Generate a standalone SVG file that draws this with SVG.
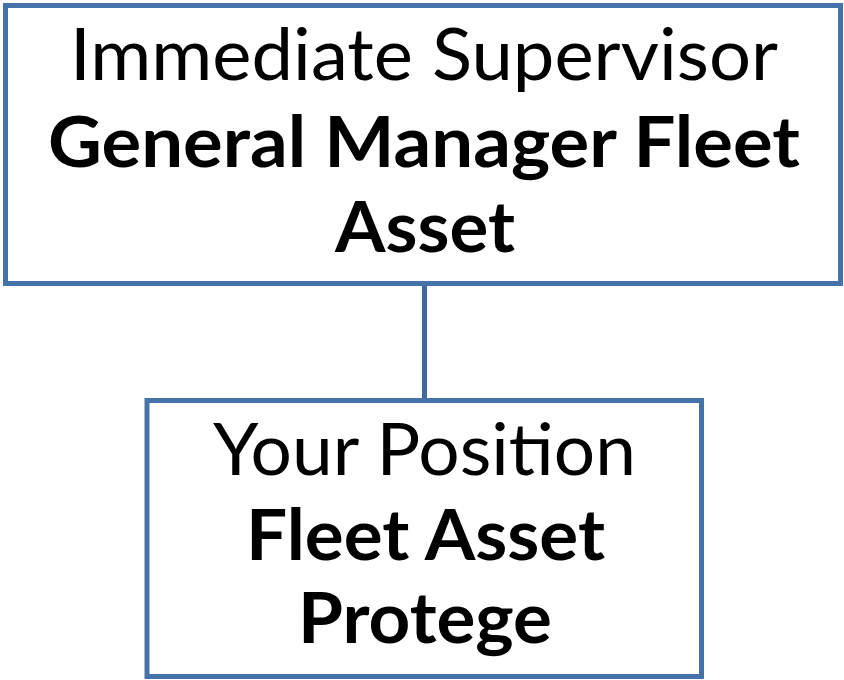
<svg xmlns="http://www.w3.org/2000/svg" width="844" height="680" viewBox="0 0 844 680">
<style>
.box{fill:#ffffff;stroke:#4672AA;stroke-width:5}
.conn{stroke:#41699E;stroke-width:5;fill:none}
.t{font-family:Lato,"Open Sans",sans-serif;font-size:71px;fill:#000000;text-anchor:middle}
.b{font-weight:bold}
</style>
<rect width="844" height="680" fill="#ffffff"/>
<g id="connectors">
<line class="conn" x1="424.5" y1="283.5" x2="424.5" y2="399"/>
</g>
<g id="supervisor">
<rect class="box" x="5.5" y="5.5" width="835" height="278"/>
<text class="t" x="424" y="80" textLength="708" lengthAdjust="spacingAndGlyphs">Immediate Supervisor</text>
<text class="t b" x="424" y="167" textLength="752" lengthAdjust="spacingAndGlyphs">General Manager Fleet</text>
<text class="t b" x="425" y="252" textLength="180" lengthAdjust="spacingAndGlyphs">Asset</text>
</g>
<g id="position">
<rect class="box" x="147" y="400.5" width="554.5" height="276"/>
<text class="t" x="424.5" y="475" textLength="423" lengthAdjust="spacingAndGlyphs">Your Position</text>
<text class="t b" x="425.5" y="560" textLength="359" lengthAdjust="spacingAndGlyphs">Fleet Asset</text>
<text class="t b" x="425" y="643" textLength="254" lengthAdjust="spacingAndGlyphs">Protege</text>
</g>
</svg>
